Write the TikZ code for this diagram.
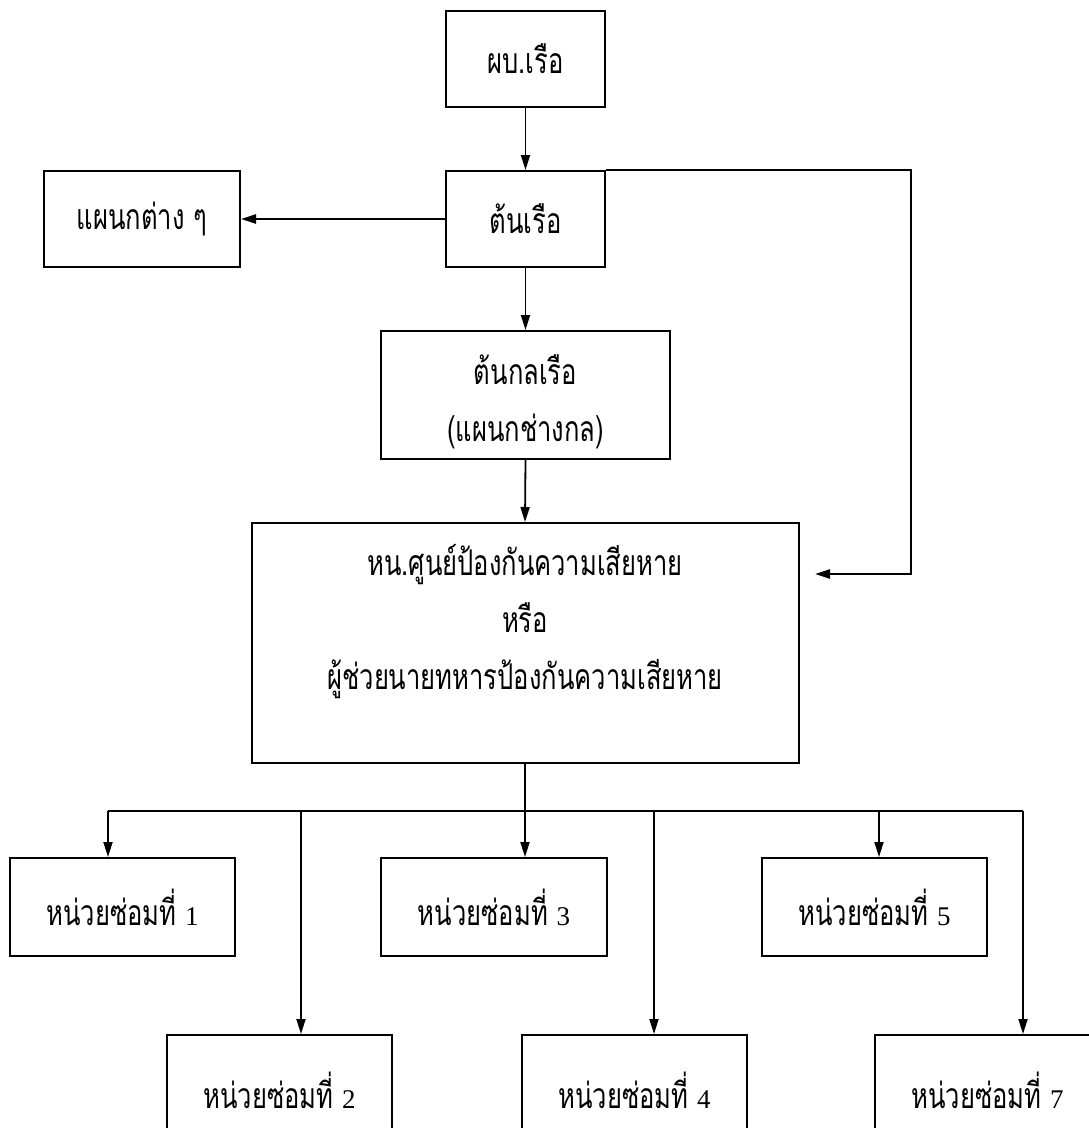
\documentclass[tikz,border=0pt]{standalone}
\usepackage{fontspec}
\newfontfamily\thai[Script=Thai,FakeStretch=0.72]{Loma}
\newfontfamily\numfont{Liberation Serif}
\usetikzlibrary{arrows.meta}
\begin{document}
\begin{tikzpicture}[x=1pt,y=-1pt,
  thaitext/.style={font=\thai\fontsize{35.5}{57}\selectfont,align=center},
  box/.style={draw,line width=2pt,inner sep=0pt,thaitext},
  conn/.style={line width=1.8pt},
  arr/.style={conn,-{Triangle[length=15pt,width=9pt]}}]
\useasboundingbox (0,0) rectangle (1089,1128);
\clip (0,0) rectangle (1089,1128);
% boxes
\node[box,minimum width=159pt,minimum height=96pt] (cmd) at (525.5,59) {ผบ.เรือ};
\node[box,minimum width=159pt,minimum height=96pt] (xo) at (525.5,219) {ต้นเรือ};
\node[box,minimum width=196pt,minimum height=96pt] (dept) at (142,219) {แผนกต่าง ๆ};
\node[box,minimum width=289pt,minimum height=128pt] (eng) at (525.5,395) {};
\node[thaitext,inner sep=0pt] (engt) at (525.5,402) {ต้นกลเรือ\\(แผนกช่างกล)};
\node[box,minimum width=547pt,minimum height=240pt] (dc) at (525,643) {};
\node[thaitext,inner sep=0pt] (dct) at (525,622) {หน.ศูนย์ป้องกันความเสียหาย\\หรือ\\ผู้ช่วยนายทหารป้องกันความเสียหาย};
\node[box,minimum width=225pt,minimum height=98pt] (u1) at (122.5,907) {หน่วยซ่อมที่ {\numfont\fontsize{27}{30}\selectfont 1}};
\node[box,minimum width=226pt,minimum height=98pt] (u3) at (494,907) {หน่วยซ่อมที่ {\numfont\fontsize{27}{30}\selectfont 3}};
\node[box,minimum width=225pt,minimum height=98pt] (u5) at (874.5,907) {หน่วยซ่อมที่ {\numfont\fontsize{27}{30}\selectfont 5}};
\node[box,minimum width=225pt,minimum height=110pt] (u2) at (279.5,1090) {หน่วยซ่อมที่ {\numfont\fontsize{27}{30}\selectfont 2}};
\node[box,minimum width=225pt,minimum height=110pt] (u4) at (634.5,1090) {หน่วยซ่อมที่ {\numfont\fontsize{27}{30}\selectfont 4}};
\node[box,minimum width=225pt,minimum height=110pt] (u7) at (987.5,1090) {หน่วยซ่อมที่ {\numfont\fontsize{27}{30}\selectfont 7}};
% connectors
\draw[arr] (cmd.south) -- (xo.north);
\draw[arr,line width=2.6pt] (xo.west) -- (dept.east);
\draw[arr] (xo.south) -- (eng.north);
\draw[arr] (eng.south) -- (dc.north);
\coordinate (rt) at (911,170);
\coordinate (rb) at (911,574);
\coordinate (rtip) at (815,574);
\draw[arr,line width=2.4pt] (xo.north east) -- (rt) -- (rb) -- (rtip);
\coordinate (bus) at (525,811);
\coordinate (b1) at (108,811);
\coordinate (b2) at (301,811);
\coordinate (b4) at (654,811);
\coordinate (b5) at (879,811);
\coordinate (b7) at (1023,811);
\draw[conn] (dc.south) -- (bus);
\draw[conn] (b1) -- (b7);
\draw[arr] (b1) -- (b1 |- u1.north);
\draw[arr] (b2) -- (b2 |- u2.north);
\draw[arr] (bus) -- (u3.north -| bus);
\draw[arr] (b4) -- (b4 |- u4.north);
\draw[arr] (b5) -- (b5 |- u5.north);
\draw[arr] (b7) -- (b7 |- u7.north);
\end{tikzpicture}
\end{document}
